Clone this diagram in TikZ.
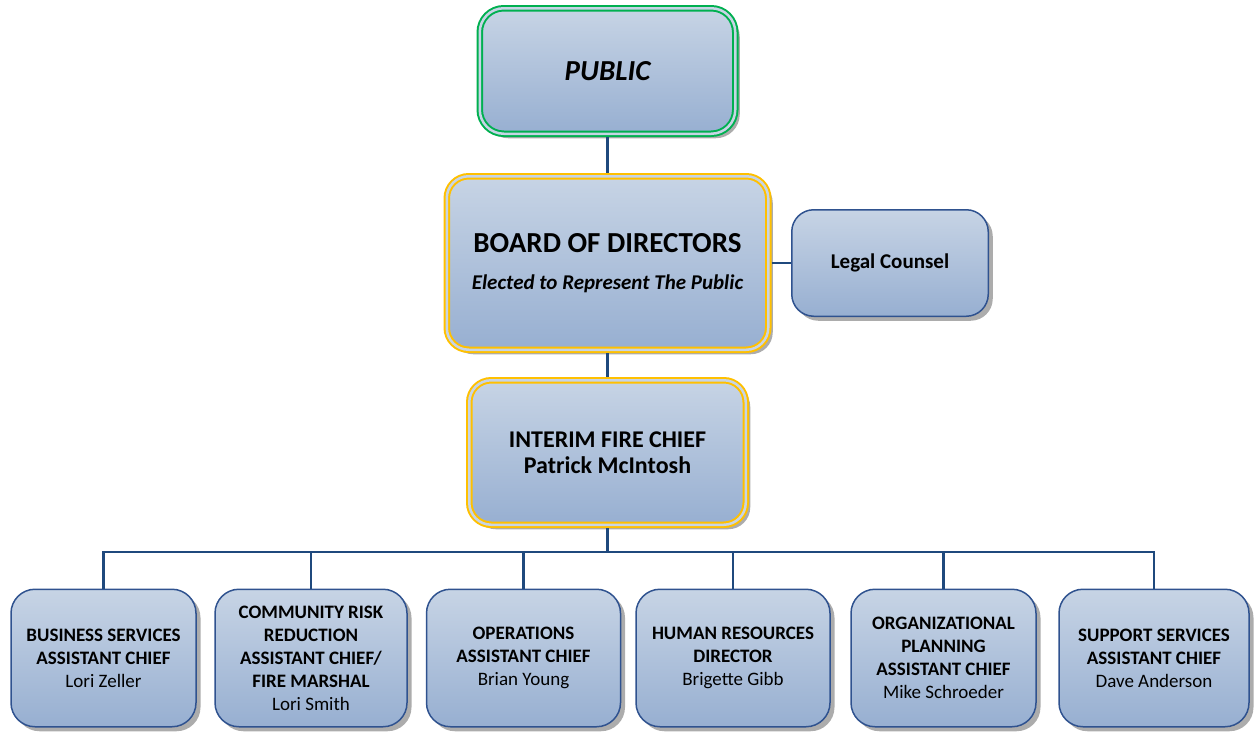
\documentclass[tikz,border=0pt]{standalone}
\usepackage{fontspec}
\setmainfont{Carlito}
\usepackage{tikz}
\usepackage{xcolor}
\usetikzlibrary{shadows}

\definecolor{boxtop}{RGB}{199,212,229}
\definecolor{boxbot}{RGB}{151,175,209}
\definecolor{boxline}{RGB}{47,82,143}
\definecolor{linkc}{RGB}{31,73,125}
\definecolor{pubgreen}{RGB}{0,176,80}
\definecolor{goldc}{RGB}{255,192,0}

\tikzset{
  orgbox/.style={rectangle, rounded corners=22pt, inner sep=0pt, align=center,
    top color=boxtop, bottom color=boxbot, text=black,
    drop shadow={shadow xshift=4.5pt, shadow yshift=-4.5pt, fill=gray!65, opacity=1}},
  plainbox/.style={orgbox, draw=boxline, line width=1.5pt},
  ringbox/.style={orgbox, draw=#1, double=boxtop, double distance=2.5pt,
    line width=2pt, outer sep=3.25pt},
  unitbox/.style={plainbox, rounded corners=24pt, minimum width=#1, minimum height=137.5pt,
    font=\fontsize{19}{23}\selectfont\bfseries},
  link/.style={draw=linkc, line width=2.5pt}
}

\begin{document}
\begin{tikzpicture}[x=1pt, y=-1pt]
\useasboundingbox (0,0) rectangle (1255,731);

% Top levels
\node[ringbox=pubgreen, rounded corners=24pt, minimum width=255.5pt, minimum height=125.5pt,
  font=\fontsize{29}{34}\selectfont\bfseries\itshape] (public) at (607.5,71) {PUBLIC};
\node[ringbox=goldc, minimum width=321.5pt, minimum height=173.5pt,
  font=\fontsize{21}{37}\selectfont\bfseries] (board) at (607.5,263)
  {{\fontsize{29}{37}\selectfont BOARD OF DIRECTORS}\\
   \itshape Elected to Represent The Public};
\node[plainbox, minimum width=196.5pt, minimum height=106.5pt,
  font=\fontsize{21}{25}\selectfont\bfseries] (legal) at (890,263) {Legal Counsel};
\node[ringbox=goldc, minimum width=276.5pt, minimum height=144.5pt,
  font=\fontsize{24}{26}\selectfont\bfseries] (chief) at (607.5,452.5)
  {INTERIM FIRE CHIEF\\Patrick McIntosh};

% Assistant chiefs
\node[unitbox=185pt] (business) at (103.5,658)
  {BUSINESS SERVICES\\ASSISTANT CHIEF\\\mdseries Lori Zeller};
\node[unitbox=192pt] (risk) at (311,658)
  {COMMUNITY RISK\\REDUCTION\\ASSISTANT CHIEF/\\FIRE MARSHAL\\\mdseries Lori Smith};
\node[unitbox=194pt] (operations) at (523.5,658)
  {OPERATIONS\\ASSISTANT CHIEF\\\mdseries Brian Young};
\node[unitbox=194pt] (hr) at (733,658)
  {HUMAN RESOURCES\\DIRECTOR\\\mdseries Brigette Gibb};
\node[unitbox=185pt] (planning) at (943.5,658)
  {ORGANIZATIONAL\\PLANNING\\ASSISTANT CHIEF\\\mdseries Mike Schroeder};
\node[unitbox=190pt] (support) at (1154,658)
  {SUPPORT SERVICES\\ASSISTANT CHIEF\\\mdseries Dave Anderson};

% Connectors
\coordinate (bus) at (607.5,552);
\draw[link] (public) -- (board);
\draw[link] (board) -- (legal);
\draw[link] (board) -- (chief);
\draw[link] (chief) -- (bus);
\foreach \u in {business,risk,operations,hr,planning,support}
  \draw[link] (\u.north) |- (bus);
\end{tikzpicture}
\end{document}
